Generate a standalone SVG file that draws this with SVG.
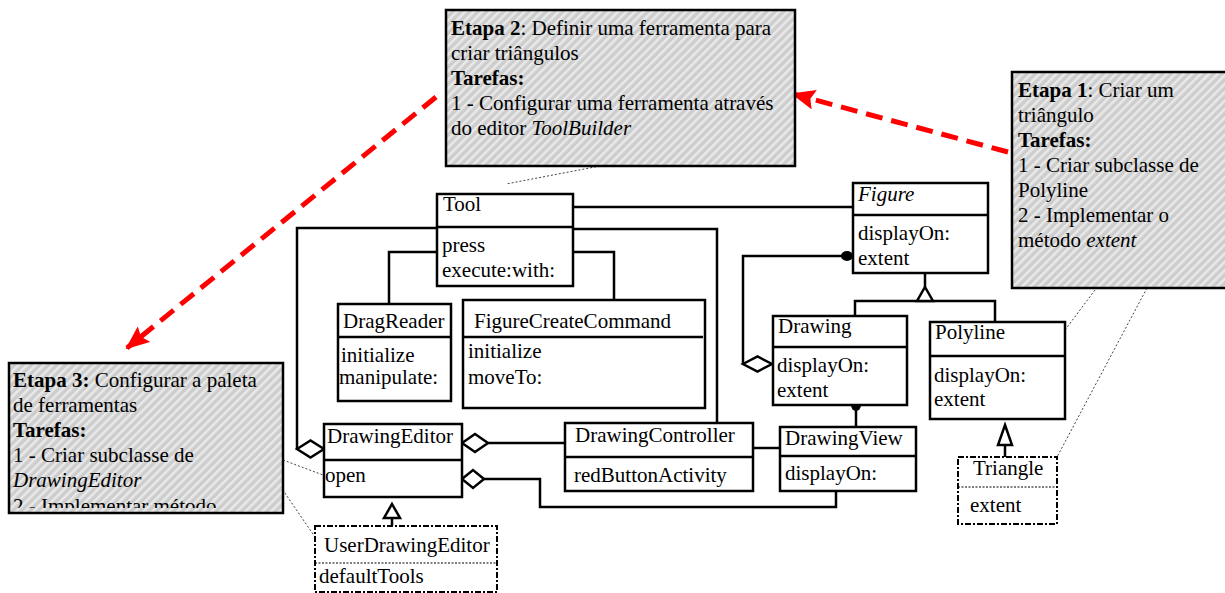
<svg xmlns="http://www.w3.org/2000/svg" width="1225" height="593" viewBox="0 0 1225 593">
<style>
text{font-family:"Liberation Serif","Times New Roman",serif;font-size:21px;fill:#000}
.b{font-weight:bold}
.i{font-style:italic}
.box{fill:#fff;stroke:#000;stroke-width:2.5}
.dbox{fill:#fff;stroke:#000;stroke-width:2;stroke-dasharray:6,2,2,2}
.div{stroke:#000;stroke-width:2.5}
.ddiv{stroke:#000;stroke-width:1;stroke-dasharray:2,1.5}
.note{fill:url(#hatch);stroke:#000;stroke-width:2.5}
.ln{fill:none;stroke:#000;stroke-width:2.5}
.dia{fill:#fff;stroke:#000;stroke-width:2.5}
.tri{fill:#fff;stroke:#000;stroke-width:2.5}
.call{fill:none;stroke:#444;stroke-width:1;stroke-dasharray:2,2}
.red{fill:none;stroke:#f00;stroke-width:5;stroke-dasharray:17,9}
</style>
<defs>
<pattern id="hatch" patternUnits="userSpaceOnUse" width="6" height="6" patternTransform="rotate(45)">
<rect width="6" height="6" fill="#cdcdcd"/>
<rect width="2.5" height="6" fill="#e9e9e9"/>
</pattern>
<marker id="ra" markerUnits="userSpaceOnUse" markerWidth="24" markerHeight="20" refX="22" refY="10" orient="auto">
<path d="M0,0 L24,10 L0,20 L4,10 z" fill="#f00"/>
</marker>
<clipPath id="c3"><rect x="9" y="363" width="274" height="145"/></clipPath>
</defs>

<g id="connectors">
<path class="ln" d="M573,207 H853"/>
<path class="ln" d="M437,228 H297 V449"/>
<path class="ln" d="M573,229 H717 V423"/>
<path class="ln" d="M437,252 H389 V304"/>
<path class="ln" d="M573,252 H614 V300"/>
<path class="ln" d="M846,256 H743 V364"/>
<ellipse cx="847" cy="256" rx="6" ry="5" fill="#000"/>
<polygon class="dia" points="743,364 757.5,356.5 772,364 757.5,371.5"/>
<polygon class="dia" points="297,449 310.5,440.5 324,449 310.5,457.5"/>
<path class="ln" d="M925,273 V287"/>
<path class="ln" d="M855,316 V301 H995 V322"/>
<polygon class="tri" points="925,287 933,301 917,301"/>
<path class="ln" d="M856,405 V427"/>
<ellipse cx="856" cy="405" rx="5" ry="6" fill="#000"/>
<path class="ln" d="M753,448 H780"/>
<path class="ln" d="M488,443 H565"/>
<polygon class="dia" points="462,443 475,434 488,443 475,452"/>
<path class="ln" d="M484,479 H540 V507 H836 V491"/>
<polygon class="dia" points="462,479 473,470 484,479 473,488"/>
<path class="ln" d="M392,518 V526"/>
<polygon class="tri" points="392,504 400,518 384,518"/>
<path class="ln" d="M1005,445 V457"/>
<polygon class="tri" points="1005,425 1012,445 998,445"/>
<path class="call" d="M600,166 L506,184"/>
<path class="call" d="M283,460 L323,475"/>
<path class="call" d="M278,483 L315,537"/>
<path class="call" d="M1095,290 L1065,330"/>
<path class="call" d="M1147,288 L1057,457"/>
<path class="red" d="M1008,152 L793,94" marker-end="url(#ra)"/>
<path class="red" d="M436,97 L127,348" marker-end="url(#ra)"/>
</g>

<g id="note2">
<rect class="note" x="446" y="10" width="349" height="156"/>
<text x="451" y="35"><tspan class="b">Etapa 2</tspan>: Definir uma ferramenta para</text>
<text x="451" y="60">criar triângulos</text>
<text x="451" y="85" class="b">Tarefas:</text>
<text x="451" y="110">1 - Configurar uma ferramenta através</text>
<text x="451" y="135">do editor <tspan class="i">ToolBuilder</tspan></text>
</g>

<g id="note1">
<rect class="note" x="1012" y="72" width="225" height="216"/>
<text x="1018" y="97"><tspan class="b">Etapa 1</tspan>: Criar um</text>
<text x="1018" y="122">triângulo</text>
<text x="1018" y="147" class="b">Tarefas:</text>
<text x="1018" y="172">1 - Criar subclasse de</text>
<text x="1018" y="197">Polyline</text>
<text x="1018" y="222">2 - Implementar o</text>
<text x="1018" y="247">método <tspan class="i">extent</tspan></text>
</g>

<g id="note3">
<rect class="note" x="9" y="363" width="274" height="150"/>
<g clip-path="url(#c3)">
<text x="13" y="387"><tspan class="b">Etapa 3:</tspan> Configurar a paleta</text>
<text x="13" y="412">de ferramentas</text>
<text x="13" y="437" class="b">Tarefas:</text>
<text x="13" y="462">1 - Criar subclasse de</text>
<text x="13" y="487" class="i">DrawingEditor</text>
<text x="13" y="513">2 - Implementar método</text>
</g>
</g>

<g id="Tool">
<rect class="box" x="437" y="194" width="136" height="92"/>
<line class="div" x1="437" y1="227" x2="573" y2="227"/>
<text x="443" y="211">Tool</text>
<text x="442" y="252">press</text>
<text x="442" y="277">execute:with:</text>
</g>

<g id="DragReader">
<rect class="box" x="338" y="304" width="113" height="97"/>
<line class="div" x1="338" y1="337" x2="451" y2="337"/>
<text x="343" y="328">DragReader</text>
<text x="341" y="362">initialize</text>
<text x="339" y="384">manipulate:</text>
</g>

<g id="FigureCreateCommand">
<rect class="box" x="463" y="300" width="242" height="108"/>
<line class="div" x1="463" y1="337" x2="703" y2="337"/>
<text x="474" y="328">FigureCreateCommand</text>
<text x="468" y="358">initialize</text>
<text x="468" y="384">moveTo:</text>
</g>

<g id="Figure">
<rect class="box" x="853" y="183" width="135" height="90"/>
<line class="div" x1="853" y1="215" x2="988" y2="215"/>
<text x="858" y="201" class="i">Figure</text>
<text x="858" y="240">displayOn:</text>
<text x="858" y="265">extent</text>
</g>

<g id="Drawing">
<rect class="box" x="773" y="316" width="134" height="89"/>
<line class="div" x1="773" y1="347" x2="907" y2="347"/>
<text x="778" y="333">Drawing</text>
<text x="777" y="372">displayOn:</text>
<text x="777" y="397">extent</text>
</g>

<g id="Polyline">
<rect class="box" x="930" y="322" width="135" height="97"/>
<line class="div" x1="930" y1="356" x2="1065" y2="356"/>
<text x="935" y="339">Polyline</text>
<text x="934" y="382">displayOn:</text>
<text x="934" y="406">extent</text>
</g>

<g id="DrawingView">
<rect class="box" x="780" y="427" width="136" height="64"/>
<line class="div" x1="780" y1="456" x2="916" y2="456"/>
<text x="785" y="445">DrawingView</text>
<text x="785" y="480">displayOn:</text>
</g>

<g id="DrawingController">
<rect class="box" x="565" y="423" width="188" height="68"/>
<line class="div" x1="565" y1="457" x2="753" y2="457"/>
<text x="575" y="442">DrawingController</text>
<text x="574" y="482">redButtonActivity</text>
</g>

<g id="DrawingEditor">
<rect class="box" x="324" y="424" width="138" height="73"/>
<line class="div" x1="324" y1="460" x2="462" y2="460"/>
<text x="327" y="443">DrawingEditor</text>
<text x="325" y="482">open</text>
</g>

<g id="UserDrawingEditor">
<rect class="dbox" x="315" y="526" width="182" height="66"/>
<line class="ddiv" x1="315" y1="563" x2="497" y2="563"/>
<text x="324" y="552">UserDrawingEditor</text>
<text x="319" y="583">defaultTools</text>
</g>

<g id="Triangle">
<rect class="dbox" x="958" y="457" width="99" height="67"/>
<line class="ddiv" x1="958" y1="487" x2="1057" y2="487"/>
<text x="973" y="475">Triangle</text>
<text x="970" y="512">extent</text>
</g>
</svg>
